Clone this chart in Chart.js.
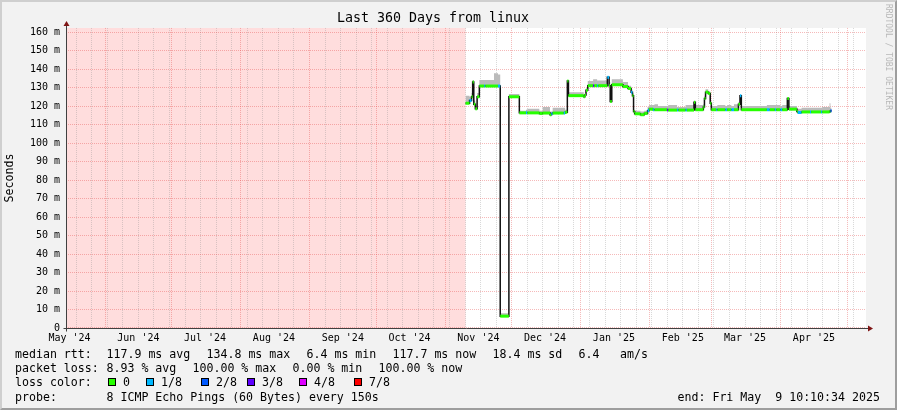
<!DOCTYPE html>
<html lang="en">
<head>
<meta charset="UTF-8">
<title>Last 360 Days from linux</title>
<script src="https://cdn.jsdelivr.net/npm/chart.js"></script>
<style>
    body { margin: 0; background: #f2f2f2; }
    .wrap { position: relative; width: 897px; height: 410px; background: #f2f2f2; font-family: 'DejaVu Sans Mono', monospace; overflow: hidden; }
    canvas { position: absolute; left: 0; top: 0; }
    .frame {
        position: absolute; left: 0; top: 0; width: 897px; height: 410px; box-sizing: border-box;
        border-top: 2px solid #cfcfcf; border-left: 2px solid #cfcfcf;
        border-bottom: 2px solid #9e9e9e; border-right: 2px solid #9e9e9e;
        pointer-events: none;
    }
    .t { position: absolute; font-size: 11.6px; line-height: 14px; white-space: pre; color: #000; }
    .sw { position: absolute; top: 378px; width: 6px; height: 6px; border: 1px solid #000; }
    .mark {
        position: absolute; left: 883px; top: 4px; writing-mode: vertical-rl;
        font-size: 8px; line-height: 10px; color: #b8b8b8; white-space: pre;
    }
</style>
</head>
<body>
<div class="wrap">
    <canvas id="chart" width="897" height="410"></canvas>
    <div class="frame"></div>

    <div class="mark">RRDTOOL / TOBI OETIKER</div>

    <!-- legend -->
    <div class="t" style="left:15px; top:347px">median rtt:</div>
    <div class="t" style="left:106.5px; top:347px">117.9 ms avg</div>
    <div class="t" style="left:206.5px; top:347px">134.8 ms max</div>
    <div class="t" style="left:306.5px; top:347px">6.4 ms min</div>
    <div class="t" style="left:392.5px; top:347px">117.7 ms now</div>
    <div class="t" style="left:492.5px; top:347px">18.4 ms sd</div>
    <div class="t" style="left:578.5px; top:347px">6.4</div>
    <div class="t" style="left:620px; top:347px">am/s</div>

    <div class="t" style="left:15px; top:361px">packet loss:</div>
    <div class="t" style="left:106.5px; top:361px">8.93 % avg</div>
    <div class="t" style="left:192.5px; top:361px">100.00 % max</div>
    <div class="t" style="left:292.5px; top:361px">0.00 % min</div>
    <div class="t" style="left:378.5px; top:361px">100.00 % now</div>

    <div class="t" style="left:15px; top:375px">loss color:</div>
    <div id="lossLegend"></div>

    <div class="t" style="left:15px; top:389.5px">probe:</div>
    <div class="t" style="left:106.5px; top:389.5px">8 ICMP Echo Pings (60 Bytes) every 150s</div>
    <div class="t" style="left:677.5px; top:389.5px">end: Fri May  9 10:10:34 2025</div>
</div>

<script>
    // graph time frame: 360 days ending at the "end:" time
    const DAY = 86400000;
    const graphEnd = Date.UTC(2025, 4, 9, 10, 10, 34);
    const spanDays = 360;
    const graphStart = graphEnd - spanDays * DAY;

    // x axis labels, one per month
    const monthLabels = ["May '24", "Jun '24", "Jul '24", "Aug '24", "Sep '24", "Oct '24",
                         "Nov '24", "Dec '24", "Jan '25", "Feb '25", "Mar '25", "Apr '25"];

    // y axis (ms)
    const yMax = 162.2;
    const yTickValues = [0, 10, 20, 30, 40, 50, 60, 70, 80, 90, 100, 110, 120, 130, 140, 150, 160];

    // no data before this (days after graph start)
    const unknownUntil = 179.8;

    // median rtt as segments: start (days after graph start), median ms, smoke top ms, loss class
    const segDay = [179.8, 181.6, 182.5, 183.0, 183.5, 184.2, 185.0, 186.0, 188.2, 188.7,
                    192.6, 194.4, 195.4, 199.3, 204.0, 207.0, 207.6, 213.0, 214.5, 217.8,
                    218.4, 219.0, 224.0, 224.6, 225.6, 226.1, 233.0, 233.5, 234.0, 234.8,
                    237.2, 237.7, 239.0, 239.5, 243.6, 244.4, 244.9, 245.6, 250.6, 252.9,
                    254.3, 254.9, 255.4, 255.9, 258.5, 260.2, 261.7, 262.4, 264.2, 264.8,
                    266.4, 270.5, 271.0, 275.0, 275.6, 278.8, 279.4, 282.6, 283.2, 286.8,
                    287.3, 287.8, 289.0, 289.9, 290.4, 292.6, 293.1, 296.7, 297.5, 299.4,
                    300.6, 302.6, 303.3, 303.9, 315.4, 316.7, 319.0, 319.6, 321.5, 322.3,
                    324.6, 325.3, 328.9, 329.3, 331.0, 334.8, 335.3, 339.8, 340.3, 343.6,
                    344.0];
    const segMedian = [121.5, 123.0, 125.0, 133.0, 121.0, 118.5, 125.0, 130.8, 130.8, 130.8,
                       130.8, 130.8, 6.4, 125.0, 116.3, 116.3, 116.3, 116.0, 116.2, 115.3,
                       115.8, 116.2, 116.2, 116.6, 133.5, 125.6, 125.0, 126.0, 128.5, 131.0,
                       131.0, 131.0, 131.0, 131.0, 135.5, 131.0, 122.5, 131.5, 130.5, 129.5,
                       127.5, 125.5, 117.0, 115.8, 115.3, 116.0, 117.5, 118.3, 118.0, 118.0,
                       118.0, 117.8, 117.8, 117.8, 117.8, 117.8, 117.8, 122.0, 118.0, 119.5,
                       124.0, 127.5, 126.8, 121.5, 118.0, 118.0, 118.0, 118.0, 118.0, 118.0,
                       118.0, 121.0, 125.5, 118.0, 118.0, 118.0, 118.0, 118.0, 118.0, 118.0,
                       124.0, 118.3, 117.0, 116.5, 116.8, 116.8, 116.8, 116.8, 116.8, 117.0,
                       117.5];
    const segSmokeTop = [125.5, 125.0, 127.0, 134.0, 123.0, 120.0, 127.0, 134.0, 134.0, 134.0,
                         137.7, 137.0, 8.0, 126.5, 117.5, 118.0, 118.5, 117.5, 119.5, 117.0,
                         117.0, 119.0, 119.0, 118.0, 134.0, 127.5, 126.0, 127.5, 129.5, 133.5,
                         134.5, 134.5, 133.8, 133.8, 136.0, 133.0, 124.0, 134.5, 133.0, 131.0,
                         129.0, 127.0, 118.0, 117.5, 117.0, 117.5, 119.5, 120.5, 120.5, 121.0,
                         120.0, 120.0, 120.5, 119.5, 119.5, 120.5, 120.5, 122.5, 120.5, 121.0,
                         125.5, 129.0, 128.0, 123.0, 120.0, 120.0, 120.5, 120.0, 120.5, 120.0,
                         121.0, 122.0, 126.0, 120.0, 120.5, 120.5, 120.5, 120.5, 120.0, 120.5,
                         124.5, 120.0, 119.0, 118.5, 119.0, 119.0, 119.0, 119.0, 119.5, 121.5,
                         119.0];
    const segLoss = [0, 1, 0, 0, 0, 0, 0, 0, 1, 0,
                     0, 1, 0, 0, 0, 1, 0, 0, 0, 0,
                     1, 0, 1, 0, 0, 0, 0, 0, 0, 0,
                     3, 0, 1, 0, 1, 0, 0, 0, 0, 0,
                     1, 0, 0, 0, 0, 0, 1, 0, 1, 0,
                     0, 3, 0, 1, 0, 1, 0, 0, 0, 0,
                     0, 0, 0, 0, 0, 1, 0, 1, 0, 1,
                     0, 0, 1, 0, 1, 0, 1, 0, 1, 0,
                     0, 0, 0, 1, 0, 1, 0, 1, 0, 0,
                     2];
    const dataEnd = 344.5;

    const lossColors = ['#26ff00', '#00b8ff', '#0059ff', '#5e00ff', '#dd00ff', '#ff0000'];
    const lossNames = ['0', '1/8', '2/8', '3/8', '4/8', '7/8'];

    // loss colour legend
    const swatchX = [108, 146, 201, 247, 299, 354];
    const legendBox = document.getElementById('lossLegend');
    lossNames.forEach((name, i) => {
        legendBox.insertAdjacentHTML('beforeend',
            '<div class="sw" style="left:' + swatchX[i] + 'px; background:' + lossColors[i] + '"></div>' +
            '<div class="t" style="left:' + (swatchX[i] + 15) + 'px; top:375px">' + name + '</div>');
    });

    // x axis ticks: weekly grid (Sundays), monthly grid, labels mid month
    function dayOf(y, m, d) { return (Date.UTC(y, m, d) - graphStart) / DAY; }
    const monthLines = [];
    for (let i = 1; i <= 12; i++) {
        const d = dayOf(2024, 4 + i, 1);
        if (d < spanDays) monthLines.push(d);
    }
    const xTicks = [];
    for (let d = dayOf(2024, 4, 19); d < spanDays; d += 7) {
        if (!monthLines.some(m => Math.abs(m - d) < 0.01)) xTicks.push({ value: d, kind: 'week' });
    }
    monthLines.forEach(d => xTicks.push({ value: d, kind: 'month' }));
    monthLabels.forEach((text, i) => xTicks.push({ value: dayOf(2024, 4 + i, 16), kind: 'label', text: text }));
    xTicks.sort((a, b) => a.value - b.value);

    const majorGrid = 'rgba(228, 70, 70, 0.38)';
    const minorGrid = 'rgba(140, 140, 140, 0.35)';
    const mono = "'DejaVu Sans Mono', monospace";

    // datasets
    const medianPoints = segDay.map((d, i) => ({ x: d, y: segMedian[i] }));
    medianPoints.push({ x: dataEnd, y: segMedian[segMedian.length - 1] });
    const smokePoints = segDay.map((d, i) => ({ x: d, y: segSmokeTop[i] }));
    smokePoints.push({ x: dataEnd, y: segSmokeTop[segSmokeTop.length - 1] });
    const lossMarks = [];
    segDay.forEach((d, i) => {
        const e = i + 1 < segDay.length ? segDay[i + 1] : dataEnd;
        lossMarks.push({ x: d, y: segMedian[i] }, { x: e, y: segMedian[i] }, { x: e, y: null });
    });

    // white canvas + pink "no data" area, under the grid
    const backdrop = {
        id: 'backdrop',
        beforeDraw(chart) {
            const { ctx, chartArea: a, scales } = chart;
            ctx.save();
            ctx.fillStyle = '#ffffff';
            ctx.fillRect(a.left, a.top, a.right - a.left, a.bottom - a.top);
            ctx.fillStyle = '#ffdddd';
            const xe = scales.x.getPixelForValue(unknownUntil);
            ctx.fillRect(a.left, a.top, xe - a.left, a.bottom - a.top);
            ctx.restore();
        }
    };

    // axis lines with arrows
    const axes = {
        id: 'axes',
        afterDraw(chart) {
            const { ctx, chartArea: a } = chart;
            const x0 = Math.round(a.left) + 0.5, y0 = Math.round(a.bottom) + 0.5;
            ctx.save();
            ctx.strokeStyle = '#404040';
            ctx.lineWidth = 1;
            ctx.beginPath();
            ctx.moveTo(x0 - 3, y0); ctx.lineTo(a.right + 3, y0);
            ctx.moveTo(x0, y0 + 3); ctx.lineTo(x0, a.top - 3);
            ctx.stroke();
            ctx.fillStyle = '#7f1515';
            ctx.beginPath();
            ctx.moveTo(x0, a.top - 7); ctx.lineTo(x0 - 3, a.top - 2); ctx.lineTo(x0 + 3, a.top - 2);
            ctx.closePath(); ctx.fill();
            ctx.beginPath();
            ctx.moveTo(a.right + 7, y0); ctx.lineTo(a.right + 2, y0 - 3); ctx.lineTo(a.right + 2, y0 + 3);
            ctx.closePath(); ctx.fill();
            ctx.restore();
        }
    };

    Chart.defaults.font.family = mono;
    Chart.defaults.color = '#000';

    const chart = new Chart(document.getElementById('chart'), {
        type: 'line',
        data: {
            datasets: [
                {
                    label: 'loss',
                    data: lossMarks,
                    borderColor: lossColors[0],
                    borderWidth: 3,
                    borderCapStyle: 'butt',
                    pointRadius: 0,
                    spanGaps: false,
                    segment: {
                        borderColor: c => lossColors[segLoss[Math.floor(c.p0DataIndex / 3)]]
                    },
                    order: 1
                },
                {
                    label: 'median rtt',
                    data: medianPoints,
                    stepped: 'before',
                    borderColor: '#111111',
                    borderWidth: 1.5,
                    pointRadius: 0,
                    order: 2
                },
                {
                    label: 'smoke',
                    data: smokePoints,
                    stepped: 'before',
                    borderWidth: 0,
                    borderColor: 'rgba(0,0,0,0)',
                    backgroundColor: '#bbbbbb',
                    fill: 1,
                    pointRadius: 0,
                    order: 3
                }
            ]
        },
        options: {
            responsive: false,
            animation: false,
            events: [],
            layout: { padding: { left: 0, right: 31, top: 0, bottom: 0 } },
            plugins: {
                legend: { display: false },
                tooltip: { enabled: false },
                title: {
                    display: true,
                    text: 'Last 360 Days from linux',
                    color: '#000',
                    font: { family: mono, size: 13.3, weight: 'normal' },
                    padding: { top: 11, bottom: 1 }
                }
            },
            scales: {
                x: {
                    type: 'linear',
                    min: 0,
                    max: spanDays,
                    afterBuildTicks(s) { s.ticks = xTicks.map(t => Object.assign({}, t)); },
                    afterFit(s) { s.height = 82; },
                    ticks: {
                        autoSkip: false,
                        maxRotation: 0,
                        padding: 4,
                        font: { size: 10 },
                        callback: (v, i, ticks) => ticks[i].text || ''
                    },
                    grid: {
                        drawTicks: false,
                        color: c => !c.tick ? 'rgba(0,0,0,0)' :
                            c.tick.kind === 'month' ? majorGrid :
                            c.tick.kind === 'week' ? minorGrid : 'rgba(0,0,0,0)'
                    },
                    border: { display: false, dash: [1, 1] }
                },
                y: {
                    min: 0,
                    max: yMax,
                    afterBuildTicks(s) {
                        const t = [];
                        yTickValues.forEach(v => { t.push({ value: v }); if (v + 5 < yMax) t.push({ value: v + 5 }); });
                        s.ticks = t;
                    },
                    afterFit(s) { s.width = 66; },
                    ticks: {
                        padding: 6,
                        font: { size: 10 },
                        callback: v => v === 0 ? '0' : (v % 10 === 0 ? v + ' m' : '')
                    },
                    grid: {
                        drawTicks: false,
                        color: c => c.tick && c.tick.value % 10 === 0 ? majorGrid : minorGrid
                    },
                    border: { display: false, dash: [1, 1] },
                    title: {
                        display: true,
                        text: 'Seconds',
                        font: { size: 11.6 },
                        padding: { top: 3, bottom: 0 }
                    }
                }
            }
        },
        plugins: [backdrop, axes]
    });
</script>
</body>
</html>
